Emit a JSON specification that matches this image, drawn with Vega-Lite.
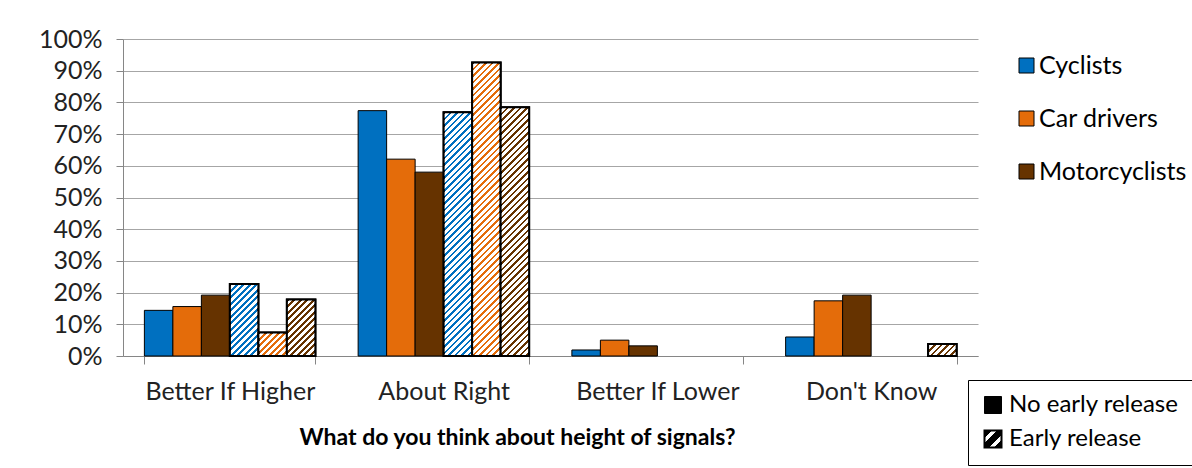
{
  "$schema": "https://vega.github.io/schema/vega-lite/v6.json",
  "width": 855,
  "height": 317,
  "autosize": {"type": "none"},
  "padding": {"left": 123, "top": 39, "right": 214, "bottom": 112},
  "background": "#ffffff",
  "config": {
    "font": "Lato",
    "view": {"stroke": null},
    "axis": {
      "domainColor": "#868686",
      "tickColor": "#868686",
      "gridColor": "#a6a6a6",
      "labelColor": "#222222",
      "labelFontSize": 25,
      "labelFont": "Lato",
      "titleFont": "Lato",
      "titleColor": "#000000"
    },
    "legend": {
      "labelFont": "Lato",
      "labelColor": "#000000",
      "labelLimit": 400,
      "symbolBaseFillColor": {
        "expr": "datum.label === 'Early release' ? {gradient: 'linear', x1: 0, y1: 0, x2: 1, y2: 1, stops: [{offset: 0, color: '#000'}, {offset: 0.22, color: '#000'}, {offset: 0.22, color: '#fff'}, {offset: 0.38, color: '#fff'}, {offset: 0.38, color: '#000'}, {offset: 0.62, color: '#000'}, {offset: 0.62, color: '#fff'}, {offset: 0.78, color: '#fff'}, {offset: 0.78, color: '#000'}, {offset: 1, color: '#000'}]} : '#000'"
      }
    }
  },
  "params": [
    {
      "name": "hatch",
      "value": [
        {"offset":0,"color":"rgba(255,255,255,0)"},{"offset":0.008,"color":"rgba(255,255,255,0)"},{"offset":0.008,"color":"#fff"},{"offset":0.02,"color":"#fff"},
        {"offset":0.02,"color":"rgba(255,255,255,0)"},{"offset":0.028,"color":"rgba(255,255,255,0)"},{"offset":0.028,"color":"#fff"},{"offset":0.04,"color":"#fff"},
        {"offset":0.04,"color":"rgba(255,255,255,0)"},{"offset":0.048,"color":"rgba(255,255,255,0)"},{"offset":0.048,"color":"#fff"},{"offset":0.06,"color":"#fff"},
        {"offset":0.06,"color":"rgba(255,255,255,0)"},{"offset":0.068,"color":"rgba(255,255,255,0)"},{"offset":0.068,"color":"#fff"},{"offset":0.08,"color":"#fff"},
        {"offset":0.08,"color":"rgba(255,255,255,0)"},{"offset":0.088,"color":"rgba(255,255,255,0)"},{"offset":0.088,"color":"#fff"},{"offset":0.1,"color":"#fff"},
        {"offset":0.1,"color":"rgba(255,255,255,0)"},{"offset":0.108,"color":"rgba(255,255,255,0)"},{"offset":0.108,"color":"#fff"},{"offset":0.12,"color":"#fff"},
        {"offset":0.12,"color":"rgba(255,255,255,0)"},{"offset":0.128,"color":"rgba(255,255,255,0)"},{"offset":0.128,"color":"#fff"},{"offset":0.14,"color":"#fff"},
        {"offset":0.14,"color":"rgba(255,255,255,0)"},{"offset":0.148,"color":"rgba(255,255,255,0)"},{"offset":0.148,"color":"#fff"},{"offset":0.16,"color":"#fff"},
        {"offset":0.16,"color":"rgba(255,255,255,0)"},{"offset":0.168,"color":"rgba(255,255,255,0)"},{"offset":0.168,"color":"#fff"},{"offset":0.18,"color":"#fff"},
        {"offset":0.18,"color":"rgba(255,255,255,0)"},{"offset":0.188,"color":"rgba(255,255,255,0)"},{"offset":0.188,"color":"#fff"},{"offset":0.2,"color":"#fff"},
        {"offset":0.2,"color":"rgba(255,255,255,0)"},{"offset":0.208,"color":"rgba(255,255,255,0)"},{"offset":0.208,"color":"#fff"},{"offset":0.22,"color":"#fff"},
        {"offset":0.22,"color":"rgba(255,255,255,0)"},{"offset":0.228,"color":"rgba(255,255,255,0)"},{"offset":0.228,"color":"#fff"},{"offset":0.24,"color":"#fff"},
        {"offset":0.24,"color":"rgba(255,255,255,0)"},{"offset":0.248,"color":"rgba(255,255,255,0)"},{"offset":0.248,"color":"#fff"},{"offset":0.26,"color":"#fff"},
        {"offset":0.26,"color":"rgba(255,255,255,0)"},{"offset":0.268,"color":"rgba(255,255,255,0)"},{"offset":0.268,"color":"#fff"},{"offset":0.28,"color":"#fff"},
        {"offset":0.28,"color":"rgba(255,255,255,0)"},{"offset":0.288,"color":"rgba(255,255,255,0)"},{"offset":0.288,"color":"#fff"},{"offset":0.3,"color":"#fff"},
        {"offset":0.3,"color":"rgba(255,255,255,0)"},{"offset":0.308,"color":"rgba(255,255,255,0)"},{"offset":0.308,"color":"#fff"},{"offset":0.32,"color":"#fff"},
        {"offset":0.32,"color":"rgba(255,255,255,0)"},{"offset":0.328,"color":"rgba(255,255,255,0)"},{"offset":0.328,"color":"#fff"},{"offset":0.34,"color":"#fff"},
        {"offset":0.34,"color":"rgba(255,255,255,0)"},{"offset":0.348,"color":"rgba(255,255,255,0)"},{"offset":0.348,"color":"#fff"},{"offset":0.36,"color":"#fff"},
        {"offset":0.36,"color":"rgba(255,255,255,0)"},{"offset":0.368,"color":"rgba(255,255,255,0)"},{"offset":0.368,"color":"#fff"},{"offset":0.38,"color":"#fff"},
        {"offset":0.38,"color":"rgba(255,255,255,0)"},{"offset":0.388,"color":"rgba(255,255,255,0)"},{"offset":0.388,"color":"#fff"},{"offset":0.4,"color":"#fff"},
        {"offset":0.4,"color":"rgba(255,255,255,0)"},{"offset":0.408,"color":"rgba(255,255,255,0)"},{"offset":0.408,"color":"#fff"},{"offset":0.42,"color":"#fff"},
        {"offset":0.42,"color":"rgba(255,255,255,0)"},{"offset":0.428,"color":"rgba(255,255,255,0)"},{"offset":0.428,"color":"#fff"},{"offset":0.44,"color":"#fff"},
        {"offset":0.44,"color":"rgba(255,255,255,0)"},{"offset":0.448,"color":"rgba(255,255,255,0)"},{"offset":0.448,"color":"#fff"},{"offset":0.46,"color":"#fff"},
        {"offset":0.46,"color":"rgba(255,255,255,0)"},{"offset":0.468,"color":"rgba(255,255,255,0)"},{"offset":0.468,"color":"#fff"},{"offset":0.48,"color":"#fff"},
        {"offset":0.48,"color":"rgba(255,255,255,0)"},{"offset":0.488,"color":"rgba(255,255,255,0)"},{"offset":0.488,"color":"#fff"},{"offset":0.5,"color":"#fff"},
        {"offset":0.5,"color":"rgba(255,255,255,0)"},{"offset":0.508,"color":"rgba(255,255,255,0)"},{"offset":0.508,"color":"#fff"},{"offset":0.52,"color":"#fff"},
        {"offset":0.52,"color":"rgba(255,255,255,0)"},{"offset":0.528,"color":"rgba(255,255,255,0)"},{"offset":0.528,"color":"#fff"},{"offset":0.54,"color":"#fff"},
        {"offset":0.54,"color":"rgba(255,255,255,0)"},{"offset":0.548,"color":"rgba(255,255,255,0)"},{"offset":0.548,"color":"#fff"},{"offset":0.56,"color":"#fff"},
        {"offset":0.56,"color":"rgba(255,255,255,0)"},{"offset":0.568,"color":"rgba(255,255,255,0)"},{"offset":0.568,"color":"#fff"},{"offset":0.58,"color":"#fff"},
        {"offset":0.58,"color":"rgba(255,255,255,0)"},{"offset":0.588,"color":"rgba(255,255,255,0)"},{"offset":0.588,"color":"#fff"},{"offset":0.6,"color":"#fff"},
        {"offset":0.6,"color":"rgba(255,255,255,0)"},{"offset":0.608,"color":"rgba(255,255,255,0)"},{"offset":0.608,"color":"#fff"},{"offset":0.62,"color":"#fff"},
        {"offset":0.62,"color":"rgba(255,255,255,0)"},{"offset":0.628,"color":"rgba(255,255,255,0)"},{"offset":0.628,"color":"#fff"},{"offset":0.64,"color":"#fff"},
        {"offset":0.64,"color":"rgba(255,255,255,0)"},{"offset":0.648,"color":"rgba(255,255,255,0)"},{"offset":0.648,"color":"#fff"},{"offset":0.66,"color":"#fff"},
        {"offset":0.66,"color":"rgba(255,255,255,0)"},{"offset":0.668,"color":"rgba(255,255,255,0)"},{"offset":0.668,"color":"#fff"},{"offset":0.68,"color":"#fff"},
        {"offset":0.68,"color":"rgba(255,255,255,0)"},{"offset":0.688,"color":"rgba(255,255,255,0)"},{"offset":0.688,"color":"#fff"},{"offset":0.7,"color":"#fff"},
        {"offset":0.7,"color":"rgba(255,255,255,0)"},{"offset":0.708,"color":"rgba(255,255,255,0)"},{"offset":0.708,"color":"#fff"},{"offset":0.72,"color":"#fff"},
        {"offset":0.72,"color":"rgba(255,255,255,0)"},{"offset":0.728,"color":"rgba(255,255,255,0)"},{"offset":0.728,"color":"#fff"},{"offset":0.74,"color":"#fff"},
        {"offset":0.74,"color":"rgba(255,255,255,0)"},{"offset":0.748,"color":"rgba(255,255,255,0)"},{"offset":0.748,"color":"#fff"},{"offset":0.76,"color":"#fff"},
        {"offset":0.76,"color":"rgba(255,255,255,0)"},{"offset":0.768,"color":"rgba(255,255,255,0)"},{"offset":0.768,"color":"#fff"},{"offset":0.78,"color":"#fff"},
        {"offset":0.78,"color":"rgba(255,255,255,0)"},{"offset":0.788,"color":"rgba(255,255,255,0)"},{"offset":0.788,"color":"#fff"},{"offset":0.8,"color":"#fff"},
        {"offset":0.8,"color":"rgba(255,255,255,0)"},{"offset":0.808,"color":"rgba(255,255,255,0)"},{"offset":0.808,"color":"#fff"},{"offset":0.82,"color":"#fff"},
        {"offset":0.82,"color":"rgba(255,255,255,0)"},{"offset":0.828,"color":"rgba(255,255,255,0)"},{"offset":0.828,"color":"#fff"},{"offset":0.84,"color":"#fff"},
        {"offset":0.84,"color":"rgba(255,255,255,0)"},{"offset":0.848,"color":"rgba(255,255,255,0)"},{"offset":0.848,"color":"#fff"},{"offset":0.86,"color":"#fff"},
        {"offset":0.86,"color":"rgba(255,255,255,0)"},{"offset":0.868,"color":"rgba(255,255,255,0)"},{"offset":0.868,"color":"#fff"},{"offset":0.88,"color":"#fff"},
        {"offset":0.88,"color":"rgba(255,255,255,0)"},{"offset":0.888,"color":"rgba(255,255,255,0)"},{"offset":0.888,"color":"#fff"},{"offset":0.9,"color":"#fff"},
        {"offset":0.9,"color":"rgba(255,255,255,0)"},{"offset":0.908,"color":"rgba(255,255,255,0)"},{"offset":0.908,"color":"#fff"},{"offset":0.92,"color":"#fff"},
        {"offset":0.92,"color":"rgba(255,255,255,0)"},{"offset":0.928,"color":"rgba(255,255,255,0)"},{"offset":0.928,"color":"#fff"},{"offset":0.94,"color":"#fff"},
        {"offset":0.94,"color":"rgba(255,255,255,0)"},{"offset":0.948,"color":"rgba(255,255,255,0)"},{"offset":0.948,"color":"#fff"},{"offset":0.96,"color":"#fff"},
        {"offset":0.96,"color":"rgba(255,255,255,0)"},{"offset":0.968,"color":"rgba(255,255,255,0)"},{"offset":0.968,"color":"#fff"},{"offset":0.98,"color":"#fff"},
        {"offset":0.98,"color":"rgba(255,255,255,0)"},{"offset":0.988,"color":"rgba(255,255,255,0)"},{"offset":0.988,"color":"#fff"},{"offset":1,"color":"#fff"}
      ]
    }
  ],
  "data": {
    "values": [
      {"question": "Better If Higher", "group": "Cyclists", "release": "No early release", "bar": "Cyclists, no early release", "pct": 14.4},
      {"question": "Better If Higher", "group": "Car drivers", "release": "No early release", "bar": "Car drivers, no early release", "pct": 15.6},
      {"question": "Better If Higher", "group": "Motorcyclists", "release": "No early release", "bar": "Motorcyclists, no early release", "pct": 19.2},
      {"question": "Better If Higher", "group": "Cyclists", "release": "Early release", "bar": "Cyclists, early release", "pct": 22.7},
      {"question": "Better If Higher", "group": "Car drivers", "release": "Early release", "bar": "Car drivers, early release", "pct": 7.4},
      {"question": "Better If Higher", "group": "Motorcyclists", "release": "Early release", "bar": "Motorcyclists, early release", "pct": 17.8},
      {"question": "About Right", "group": "Cyclists", "release": "No early release", "bar": "Cyclists, no early release", "pct": 77.4},
      {"question": "About Right", "group": "Car drivers", "release": "No early release", "bar": "Car drivers, no early release", "pct": 62.1},
      {"question": "About Right", "group": "Motorcyclists", "release": "No early release", "bar": "Motorcyclists, no early release", "pct": 58.0},
      {"question": "About Right", "group": "Cyclists", "release": "Early release", "bar": "Cyclists, early release", "pct": 76.9},
      {"question": "About Right", "group": "Car drivers", "release": "Early release", "bar": "Car drivers, early release", "pct": 92.6},
      {"question": "About Right", "group": "Motorcyclists", "release": "Early release", "bar": "Motorcyclists, early release", "pct": 78.5},
      {"question": "Better If Lower", "group": "Cyclists", "release": "No early release", "bar": "Cyclists, no early release", "pct": 1.9},
      {"question": "Better If Lower", "group": "Car drivers", "release": "No early release", "bar": "Car drivers, no early release", "pct": 5.0},
      {"question": "Better If Lower", "group": "Motorcyclists", "release": "No early release", "bar": "Motorcyclists, no early release", "pct": 3.2},
      {"question": "Don't Know", "group": "Cyclists", "release": "No early release", "bar": "Cyclists, no early release", "pct": 6.0},
      {"question": "Don't Know", "group": "Car drivers", "release": "No early release", "bar": "Car drivers, no early release", "pct": 17.4},
      {"question": "Don't Know", "group": "Motorcyclists", "release": "No early release", "bar": "Motorcyclists, no early release", "pct": 19.2},
      {"question": "Don't Know", "group": "Motorcyclists", "release": "Early release", "bar": "Motorcyclists, early release", "pct": 3.8}
    ]
  },
  "encoding": {
    "x": {
      "field": "question",
      "type": "nominal",
      "sort": ["Better If Higher", "About Right", "Better If Lower", "Don't Know"],
      "scale": {"paddingInner": 0.2, "paddingOuter": 0.1},
      "axis": {
        "labelAngle": 0,
        "tickBand": "extent",
        "tickSize": 8,
        "labelPadding": 15,
        "grid": false,
        "title": "What do you think about height of signals?",
        "titleFontSize": 23,
        "titleFontWeight": "bold",
        "titleX": 394,
        "titleY": 81,
        "titleBaseline": "middle"
      }
    },
    "xOffset": {
      "field": "bar",
      "type": "nominal",
      "scale": {
        "domain": [
          "Cyclists, no early release",
          "Car drivers, no early release",
          "Motorcyclists, no early release",
          "Cyclists, early release",
          "Car drivers, early release",
          "Motorcyclists, early release"
        ],
        "paddingInner": 0,
        "paddingOuter": 0
      }
    },
    "y": {
      "field": "pct",
      "type": "quantitative",
      "scale": {"domain": [0, 100]},
      "axis": {
        "title": null,
        "values": [0, 10, 20, 30, 40, 50, 60, 70, 80, 90, 100],
        "labelExpr": "datum.value + '%'",
        "tickSize": 7,
        "labelPadding": 14,
        "grid": true
      }
    }
  },
  "layer": [
    {
      "mark": {"type": "bar", "stroke": "#000000"},
      "encoding": {
        "fill": {
          "field": "group",
          "type": "nominal",
          "scale": {
            "domain": ["Cyclists", "Car drivers", "Motorcyclists"],
            "range": ["#0070c0", "#e46c0a", "#663300"]
          },
          "legend": {
            "title": null,
            "orient": "none",
            "legendX": 891,
            "legendY": 14,
            "padding": 0,
            "symbolType": "square",
            "symbolSize": 225,
            "symbolStrokeColor": "#000000",
            "symbolStrokeWidth": 1,
            "labelFontSize": 25,
            "labelOffset": 0,
            "rowPadding": 27
          }
        },
        "strokeWidth": {
          "field": "release",
          "type": "ordinal",
          "scale": {"domain": ["No early release", "Early release"], "range": [1, 2]},
          "legend": {
            "title": null,
            "orient": "none",
            "legendX": 845,
            "legendY": 341,
            "padding": 13,
            "strokeColor": "#000000",
            "symbolType": "square",
            "symbolSize": 289,
            "labelFontSize": 24,
            "labelOffset": 4,
            "rowPadding": 9,
            "encode": {
              "legend": {"strokeWidth": {"value": 1.5}},
              "symbols": {
                "stroke": {"value": "#000000"},
                "strokeWidth": {"value": 1.5}
              }
            }
          }
        }
      }
    },
    {
      "transform": [{"filter": "datum.release === 'Early release'"}],
      "mark": {
        "type": "bar",
        "stroke": "#000000",
        "strokeWidth": 2,
        "fill": {"expr": "{gradient: 'linear', x1: 0, y1: 0, x2: 28.5 * 325 / (812.25 + pow(datum.pct * 3.17, 2)), y2: datum.pct * 3.17 * 325 / (812.25 + pow(datum.pct * 3.17, 2)), stops: hatch}"}
      }
    }
  ]
}
